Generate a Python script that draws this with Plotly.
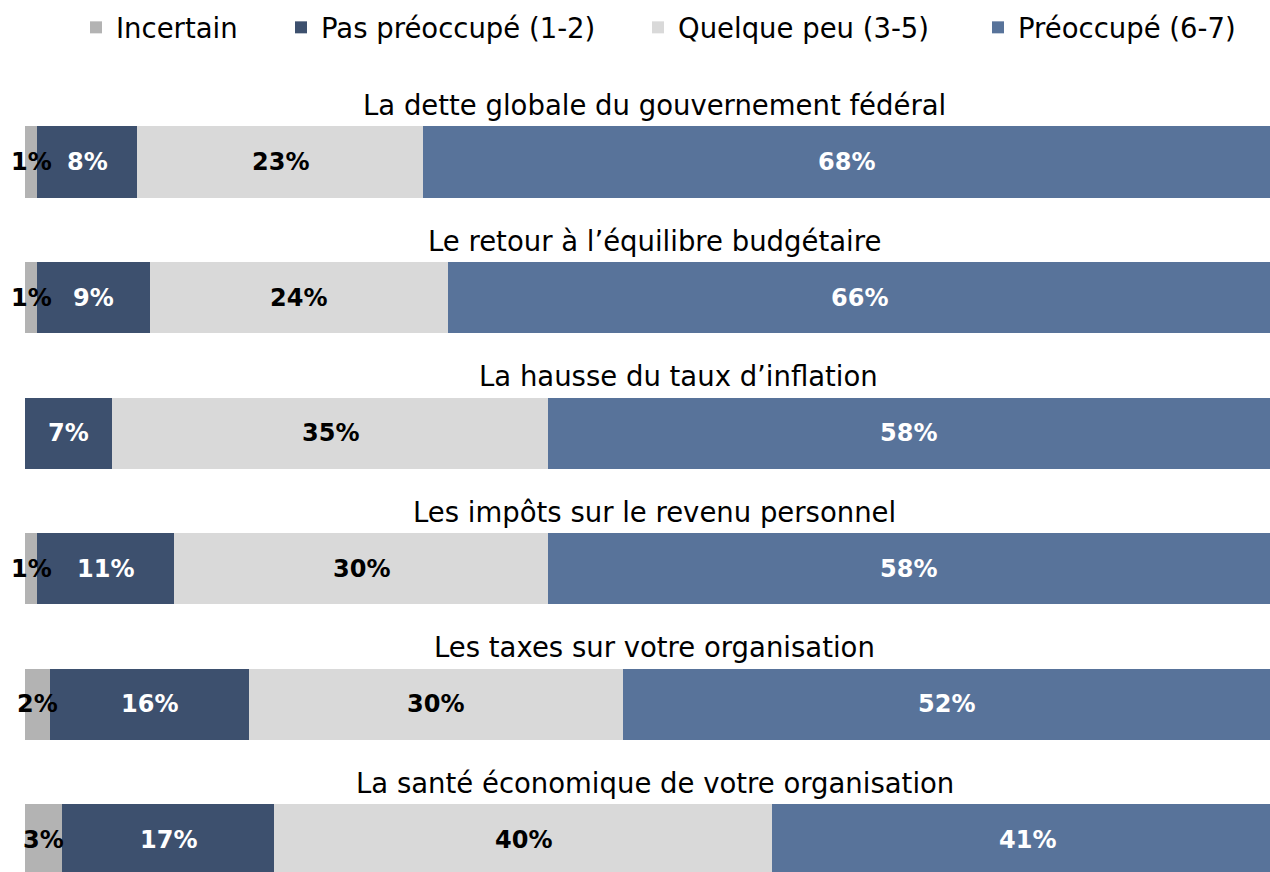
import plotly.graph_objects as go

categories = [
    "La dette globale du gouvernement fédéral",
    "Le retour à l’équilibre budgétaire",
    "La hausse du taux d’inflation",
    "Les impôts sur le revenu personnel",
    "Les taxes sur votre organisation",
    "La santé économique de votre organisation",
]
series_names = ["Incertain", "Pas préoccupé (1-2)", "Quelque peu (3-5)", "Préoccupé (6-7)"]
incertain = [1, 1, 0, 1, 2, 3]
pas_preoccupe = [8, 9, 7, 11, 16, 17]
quelque_peu = [23, 24, 35, 30, 30, 40]
preoccupe = [68, 66, 58, 58, 52, 41]

colors = ["#b3b3b3", "#3d506e", "#d9d9d9", "#58739a"]
text_colors = ["#000000", "#ffffff", "#000000", "#ffffff"]
FONT = "DejaVu Sans"
FS = 27.5

# left edge (in container fraction) of each legend entry
legend_x = [76 / 1270, 281 / 1270, 638 / 1270, 978 / 1270]
legend_ids = ["legend", "legend2", "legend3", "legend4"]

all_series = [incertain, pas_preoccupe, quelque_peu, preoccupe]

fig = go.Figure()
for name, vals, col, lid in zip(series_names, all_series, colors, legend_ids):
    fig.add_trace(go.Bar(
        name=name,
        y=categories,
        x=vals,
        orientation="h",
        marker=dict(color=col, line=dict(width=0)),
        width=0.524,
        hoverinfo="skip",
        legend=lid,
    ))

# segment value labels, centred on each segment
for ci, cat in enumerate(categories):
    cum = 0
    for si, vals in enumerate(all_series):
        v = vals[ci]
        if v > 0:
            fig.add_annotation(
                x=cum + v / 2, xref="x", y=cat, yref="y",
                text=f"{v}%", showarrow=False,
                xanchor="center", yanchor="middle",
                font=dict(family=FONT, size=24, color=text_colors[si], weight="bold"),
            )
        cum += v

# category titles above each bar
for i, cat in enumerate(categories):
    fig.add_annotation(
        x=0.506, xref="paper", xanchor="center",
        y=cat, yref="y", yshift=57, yanchor="middle",
        text=cat, showarrow=False,
        xshift=24 if i == 2 else 0,
        font=dict(family=FONT, size=FS, color="#000000"),
    )

legend_layouts = {}
for lid, lx in zip(legend_ids, legend_x):
    legend_layouts[lid] = dict(
        orientation="h", x=lx, xanchor="left", xref="container",
        y=0.9966, yanchor="top", yref="container",
        font=dict(family=FONT, size=FS, color="#000000"),
        bgcolor="rgba(0,0,0,0)",
    )

fig.update_layout(
    barmode="stack",
    width=1270, height=872,
    margin=dict(l=25, r=0, t=90, b=0),
    paper_bgcolor="white", plot_bgcolor="white",
    showlegend=True,
    xaxis=dict(range=[0, 100], visible=False, fixedrange=True),
    yaxis=dict(
        categoryorder="array", categoryarray=categories,
        range=[5.236, -0.531], visible=False, fixedrange=True,
    ),
    font=dict(family=FONT),
    **legend_layouts,
)

fig.write_html(
    "out.html",
    config={"displayModeBar": False},
    post_script="document.body.style.margin='0';document.body.style.overflow='hidden';",
)
